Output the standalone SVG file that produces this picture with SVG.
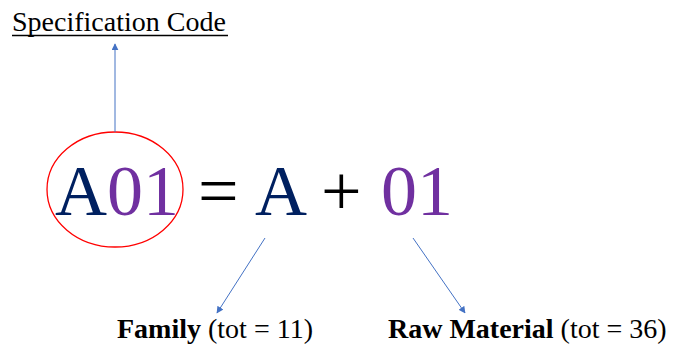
<svg xmlns="http://www.w3.org/2000/svg" width="673" height="348" viewBox="0 0 673 348">
<defs>
<style>
.t{font-family:"Liberation Serif","Times New Roman",serif}
.big{font-size:72px}
.navy{fill:#002060}
.purple{fill:#7030A0}
.blk{fill:#000}
.lab{font-size:28px;fill:#000}
.b{font-weight:bold}
.conn{stroke:#4472C4;stroke-width:1;fill:none;marker-end:url(#ah)}
</style>
<marker id="ah" viewBox="0 0 10 10" refX="9" refY="5" markerWidth="7" markerHeight="7" orient="auto" markerUnits="userSpaceOnUse">
<path d="M0,0 L10,5 L0,10 z" fill="#4472C4"/>
</marker>
</defs>
<rect width="673" height="348" fill="#fff"/>
<g id="spec-code">
<text class="t lab" x="12" y="31">Specification Code</text>
<line x1="12" y1="35.5" x2="228" y2="35.5" stroke="#000" stroke-width="1.5"/>
</g>
<g id="code-a01">
<ellipse cx="115" cy="189.5" rx="68" ry="57.5" fill="none" stroke="#FF0000" stroke-width="1.3"/>
<text class="t big" x="55" y="215"><tspan class="navy">A</tspan><tspan class="purple">01</tspan></text>
</g>
<g id="equation">
<text class="t big blk" x="198" y="215">=</text>
<text class="t big navy" x="255" y="215">A</text>
<text class="t big blk" x="321" y="215">+</text>
<text class="t big purple" x="381" y="215">01</text>
</g>
<g id="family">
<text class="t lab" x="117" y="338"><tspan class="b">Family</tspan> (tot = 11)</text>
</g>
<g id="raw-material">
<text class="t lab" x="388" y="338"><tspan class="b">Raw Material</tspan> (tot = 36)</text>
</g>
<g id="connectors">
<line class="conn" x1="115" y1="132" x2="115" y2="44"/>
<line class="conn" x1="265" y1="238" x2="217" y2="313"/>
<line class="conn" x1="413" y1="238" x2="465" y2="313"/>
</g>
</svg>
